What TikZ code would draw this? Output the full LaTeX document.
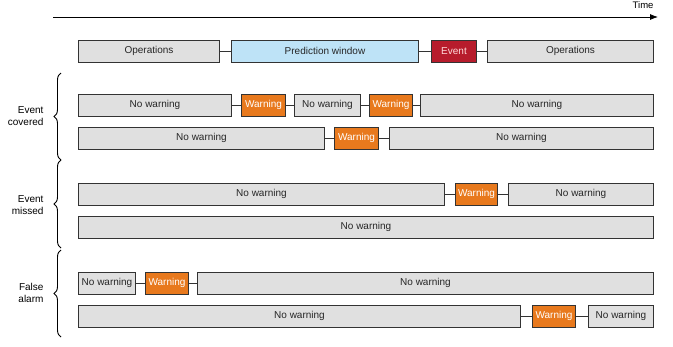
\documentclass[tikz,border=0pt]{standalone}
\usepackage{fontspec}
\setmainfont{Liberation Sans}
\usepackage{xcolor}
\usepackage{tikz}
\usetikzlibrary{arrows.meta,decorations.pathreplacing}

\definecolor{boxgrey}{HTML}{E0E0E0}
\definecolor{boxline}{HTML}{333333}
\definecolor{predblue}{HTML}{BEE3F7}
\definecolor{eventred}{HTML}{B71C2C}
\definecolor{warnorange}{HTML}{E8791D}

\tikzset{
	seg/.style={draw=boxline,line width=1pt,minimum height=22pt,inner sep=0pt,anchor=west,font=\fontsize{10}{11}\selectfont,text=black!85},
	quiet/.style={seg,fill=boxgrey},
	predict/.style={seg,fill=predblue},
	event/.style={seg,fill=eventred,text=red!15},
	warn/.style={seg,fill=warnorange,text=white},
	link/.style={draw=boxline,line width=1pt},
	grp/.style={decorate,decoration={brace,amplitude=7pt},line width=0.9pt},
	grplabel/.style={anchor=east,align=right,font=\fontsize{10}{12}\selectfont}
}

\begin{document}
\begin{tikzpicture}[x=1pt,y=-1pt]
		\useasboundingbox (0,0) rectangle (673,346);
		% time axis
		\draw[-{Latex[length=8pt,width=6pt]},line width=0.8pt] (53,17) -- (658,17);
		\node[anchor=east,font=\fontsize{9.5}{10}\selectfont] (time) at (657,5) {Time};
		% reference row
		\node[quiet,minimum width=141pt] (ops1) at (78,51) {Operations};
		\node[predict,minimum width=187pt] (pred) at (231,51) {Prediction window};
		\node[event,minimum width=45pt] (evt) at (431,51) {Event};
		\node[quiet,minimum width=166pt] (ops2) at (487,51) {Operations};
		\draw[link] (ops1) -- (pred) (pred) -- (evt) (evt) -- (ops2);
		% event covered
		\node[quiet,minimum width=153pt] (c1a) at (78,105) {No warning};
		\node[warn,minimum width=44pt] (c1b) at (241,105) {Warning};
		\node[quiet,minimum width=66pt] (c1c) at (294,105) {No warning};
		\node[warn,minimum width=43pt] (c1d) at (369,105) {Warning};
		\node[quiet,minimum width=233pt] (c1e) at (420,105) {No warning};
		\draw[link] (c1a) -- (c1b) (c1b) -- (c1c) (c1c) -- (c1d) (c1d) -- (c1e);
		\node[quiet,minimum width=246pt] (c2a) at (78,138) {No warning};
		\node[warn,minimum width=44pt] (c2b) at (334,138) {Warning};
		\node[quiet,minimum width=264pt] (c2c) at (389,138) {No warning};
		\draw[link] (c2a) -- (c2b) (c2b) -- (c2c);
		% event missed
		\node[quiet,minimum width=366pt] (m1a) at (78,194) {No warning};
		\node[warn,minimum width=42pt] (m1b) at (455,194) {Warning};
		\node[quiet,minimum width=145pt] (m1c) at (508,194) {No warning};
		\draw[link] (m1a) -- (m1b) (m1b) -- (m1c);
		\node[quiet,minimum width=575pt] (m2a) at (78,227) {No warning};
		% false alarm
		\node[quiet,minimum width=57pt] (f1a) at (78,283) {No warning};
		\node[warn,minimum width=43pt] (f1b) at (145,283) {Warning};
		\node[quiet,minimum width=456pt] (f1c) at (197,283) {No warning};
		\draw[link] (f1a) -- (f1b) (f1b) -- (f1c);
		\node[quiet,minimum width=442pt] (f2a) at (78,316) {No warning};
		\node[warn,minimum width=43pt] (f2b) at (532,316) {Warning};
		\node[quiet,minimum width=65pt] (f2c) at (588,316) {No warning};
		\draw[link] (f2a) -- (f2b) (f2b) -- (f2c);
		% braces and group labels
		\coordinate (b1top) at (61,73);
		\coordinate (b1bot) at (61,160);
		\coordinate (b2bot) at (61,248);
		\coordinate (b3top) at (61,250);
		\coordinate (b3bot) at (61,337);
		\draw[grp] (b1bot) -- (b1top);
		\draw[grp] (b2bot) -- (b1bot);
		\draw[grp] (b3bot) -- (b3top);
		\node[grplabel] (covered) at (47,116) {Event\\covered};
		\node[grplabel] (missed) at (47,205) {Event\\missed};
		\node[grplabel] (falsealarm) at (47,293) {False\\alarm};
	\end{tikzpicture}
\end{document}
